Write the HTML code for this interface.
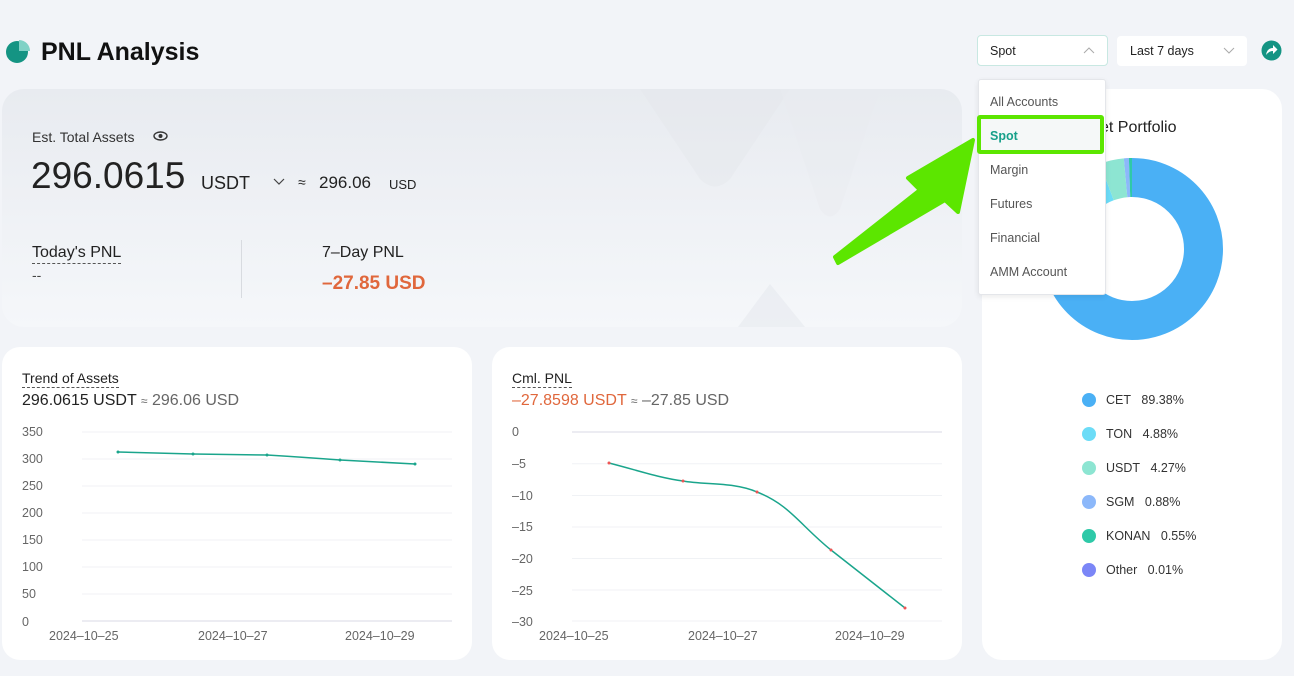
<!DOCTYPE html>
<html><head><meta charset="utf-8"><style>
*{margin:0;padding:0;box-sizing:border-box}
body{width:1294px;height:676px;background:#f2f4f8;font-family:"Liberation Sans",sans-serif;position:relative;overflow:hidden;color:#222}
.a{position:absolute;white-space:nowrap}
.card{position:absolute;background:#fff;border-radius:18px}
.dash{border-bottom:1px dashed #555;padding-bottom:1px}
.ax{font-size:12.5px;fill:#666;font-family:"Liberation Sans",sans-serif}
</style></head><body>
<svg class="a" style="left:5px;top:39px" width="26" height="26"><circle cx="12" cy="13" r="11" fill="#149483"/><path d="M14 1 A11 11 0 0 1 25 12 L14 12Z" fill="#7fd2c6"/></svg>
<div class="a" style="left:41px;top:38px;font-size:25px;font-weight:bold;color:#111">PNL Analysis</div>

<div class="card" style="left:2px;top:89px;width:960px;height:238px;background:linear-gradient(180deg,#e8ebf0,#f5f7fa);border-radius:22px"></div>
<svg class="a" style="left:620px;top:89px" width="340" height="238"><path d="M20 0 L80 90 Q95 105 110 90 L170 0Z" fill="#e4e7ec" opacity=".45"/><path d="M160 0 L200 120 Q210 135 220 120 L260 0Z" fill="#e9ecf0" opacity=".45"/><path d="M118 238 L150 195 L185 238Z" fill="#e6e9ee" opacity=".6"/></svg>
<div class="a" style="left:32px;top:129px;font-size:14px;color:#333">Est. Total Assets</div>
<svg class="a" style="left:153px;top:130px" width="15" height="12"><ellipse cx="7.5" cy="6" rx="6.5" ry="4" fill="none" stroke="#333" stroke-width="1.4"/><circle cx="7.5" cy="6" r="2" fill="#333"/></svg>
<div class="a" style="left:31px;top:155px;font-size:37px;color:#222">296.0615</div>
<div class="a" style="left:201px;top:173px;font-size:18px;color:#222">USDT</div>
<svg class="a" style="left:273px;top:178px" width="12" height="8"><path d="M1 1 L6 6 L11 1" fill="none" stroke="#444" stroke-width="1.2"/></svg>
<div class="a" style="left:298px;top:174px;font-size:14px">≈</div>
<div class="a" style="left:319px;top:173px;font-size:17px">296.06</div>
<div class="a" style="left:389px;top:177px;font-size:13px">USD</div>
<div class="a dash" style="left:32px;top:244px;font-size:16px;color:#222">Today's PNL</div>
<div class="a" style="left:32px;top:267px;font-size:14px;color:#444">--</div>
<div class="a" style="left:241px;top:240px;width:1px;height:58px;background:#d8dbe0"></div>
<div class="a" style="left:322px;top:244px;font-size:16px;color:#222">7–Day PNL</div>
<div class="a" style="left:322px;top:273px;font-size:19px;font-weight:bold;color:#e0673c">–27.85 USD</div>

<div class="card" style="left:2px;top:347px;width:470px;height:313px"></div>
<div class="a dash" style="left:22px;top:370px;font-size:14px">Trend of Assets</div>
<div class="a" style="left:22px;top:392px;font-size:16px;color:#222">296.0615 USDT <span style="font-size:12px;color:#666">≈</span> <span style="color:#666">296.06 USD</span></div>
<svg class="a" style="left:0;top:0" width="480" height="676">
<g stroke="#f0f2f5"><line x1="82" x2="452" y1="432" y2="432"/><line x1="82" x2="452" y1="459" y2="459"/><line x1="82" x2="452" y1="486" y2="486"/><line x1="82" x2="452" y1="513" y2="513"/><line x1="82" x2="452" y1="540" y2="540"/><line x1="82" x2="452" y1="567" y2="567"/><line x1="82" x2="452" y1="594" y2="594"/></g>
<line x1="82" x2="452" y1="621" y2="621" stroke="#d8d8e6"/>
<g class="ax"><text x="22" y="436">350</text><text x="22" y="463">300</text><text x="22" y="490">250</text><text x="22" y="517">200</text><text x="22" y="544">150</text><text x="22" y="571">100</text><text x="22" y="598">50</text><text x="22" y="626">0</text>
<text x="49" y="640">2024–10–25</text><text x="198" y="640">2024–10–27</text><text x="345" y="640">2024–10–29</text></g>
<path d="M118 452 L193 454 L267 455 Q300 457 340 460 L415 464" fill="none" stroke="#1aa58c" stroke-width="1.5"/>
<g fill="#1aa58c"><circle cx="118" cy="452" r="1.5"/><circle cx="193" cy="454" r="1.5"/><circle cx="267" cy="455" r="1.5"/><circle cx="340" cy="460" r="1.5"/><circle cx="415" cy="464" r="1.5"/></g>
</svg>

<div class="card" style="left:492px;top:347px;width:470px;height:313px"></div>
<div class="a dash" style="left:512px;top:370px;font-size:14px">Cml. PNL</div>
<div class="a" style="left:512px;top:392px;font-size:16px;color:#e0673c">–27.8598 USDT <span style="font-size:12px;color:#666">≈</span> <span style="color:#666">–27.85 USD</span></div>
<svg class="a" style="left:0;top:0" width="970" height="676">
<g stroke="#f0f2f5"><line x1="572" x2="942" y1="463.7" y2="463.7"/><line x1="572" x2="942" y1="495.5" y2="495.5"/><line x1="572" x2="942" y1="527" y2="527"/><line x1="572" x2="942" y1="558.5" y2="558.5"/><line x1="572" x2="942" y1="590" y2="590"/><line x1="572" x2="942" y1="621" y2="621"/></g>
<line x1="572" x2="942" y1="432" y2="432" stroke="#d8d8e6"/>
<g class="ax"><text x="512" y="436">0</text><text x="512" y="468">–5</text><text x="512" y="500">–10</text><text x="512" y="531">–15</text><text x="512" y="563">–20</text><text x="512" y="595">–25</text><text x="512" y="626">–30</text>
<text x="539" y="640">2024–10–25</text><text x="688" y="640">2024–10–27</text><text x="835" y="640">2024–10–29</text></g>
<path d="M609 463 C640 471 660 478 683 481 C705 485 735 482 757 492 C790 505 800 525 831 550 L905 608" fill="none" stroke="#1aa58c" stroke-width="1.5"/>
<g fill="#e55"><circle cx="609" cy="463" r="1.5"/><circle cx="683" cy="481" r="1.5"/><circle cx="757" cy="492" r="1.5"/><circle cx="831" cy="550" r="1.5"/><circle cx="905" cy="608" r="1.5"/></g>
</svg>

<div class="card" style="left:982px;top:89px;width:300px;height:571px;border-radius:20px"></div>
<div class="a" style="left:1100px;top:119px;font-size:16px;color:#222">et Portfolio</div>
<svg class="a" style="left:1032px;top:148px" width="200" height="200">
<g transform="rotate(-90 100 101)" fill="none" stroke-width="39">
<circle cx="100" cy="101" r="71.5" stroke="#4ab0f5" stroke-dasharray="401.54 449.25"/>
<circle cx="100" cy="101" r="71.5" stroke="#6cdcf7" stroke-dasharray="21.92 449.25" stroke-dashoffset="-401.54"/>
<circle cx="100" cy="101" r="71.5" stroke="#8de5d2" stroke-dasharray="19.18 449.25" stroke-dashoffset="-423.46"/>
<circle cx="100" cy="101" r="71.5" stroke="#8cb8fa" stroke-dasharray="3.95 449.25" stroke-dashoffset="-442.64"/>
<circle cx="100" cy="101" r="71.5" stroke="#2ec9a8" stroke-dasharray="2.47 449.25" stroke-dashoffset="-446.59"/>
</g></svg>
<div style="position:absolute;left:1082px;top:383px;font-size:12.5px;color:#333;line-height:34px">
<div><span style="display:inline-block;width:14px;height:14px;border-radius:50%;background:#4ab0f5;vertical-align:-3px;margin-right:10px"></span>CET&nbsp;&nbsp; 89.38%</div>
<div><span style="display:inline-block;width:14px;height:14px;border-radius:50%;background:#6cdcf7;vertical-align:-3px;margin-right:10px"></span>TON&nbsp;&nbsp; 4.88%</div>
<div><span style="display:inline-block;width:14px;height:14px;border-radius:50%;background:#8de5d2;vertical-align:-3px;margin-right:10px"></span>USDT&nbsp;&nbsp; 4.27%</div>
<div><span style="display:inline-block;width:14px;height:14px;border-radius:50%;background:#8cb8fa;vertical-align:-3px;margin-right:10px"></span>SGM&nbsp;&nbsp; 0.88%</div>
<div><span style="display:inline-block;width:14px;height:14px;border-radius:50%;background:#2ec9a8;vertical-align:-3px;margin-right:10px"></span>KONAN&nbsp;&nbsp; 0.55%</div>
<div><span style="display:inline-block;width:14px;height:14px;border-radius:50%;background:#7b86f7;vertical-align:-3px;margin-right:10px"></span>Other&nbsp;&nbsp; 0.01%</div>
</div>

<div class="a" style="left:977px;top:35px;width:131px;height:31px;background:#fff;border:1px solid #c8e8e2;border-radius:4px"></div>
<div class="a" style="left:990px;top:44px;font-size:12.5px;color:#222">Spot</div>
<svg class="a" style="left:1083px;top:47px" width="12" height="8"><path d="M1 6 L6 1 L11 6" fill="none" stroke="#aaa" stroke-width="1"/></svg>
<div class="a" style="left:1117px;top:36px;width:130px;height:30px;background:#fff;border-radius:4px"></div>
<div class="a" style="left:1130px;top:44px;font-size:12.5px;color:#222">Last 7 days</div>
<svg class="a" style="left:1223px;top:47px" width="12" height="8"><path d="M1 1 L6 6 L11 1" fill="none" stroke="#aaa" stroke-width="1"/></svg>
<svg class="a" style="left:1261px;top:40px" width="21" height="21"><circle cx="10.5" cy="10.5" r="10" fill="#149483"/><path d="M5 15 Q6 8 12 8 L12 5 L16.5 9.5 L12 14 L12 11 Q8 11 5 15Z" fill="#fff"/></svg>

<div class="a" style="left:978px;top:79px;width:128px;height:216px;background:#fff;border:1px solid #e4e6ea;border-radius:3px;box-shadow:0 2px 6px rgba(0,0,0,.08)"></div>
<div class="a" style="left:990px;top:95px;font-size:12.5px;color:#555">All Accounts</div>
<div class="a" style="left:977px;top:115px;width:127px;height:39px;border:4px solid #5ce600;border-radius:3px;background:#f5f8f8"></div>
<div class="a" style="left:990px;top:129px;font-size:12.5px;font-weight:bold;color:#17a08a">Spot</div>
<div class="a" style="left:990px;top:163px;font-size:12.5px;color:#555">Margin</div>
<div class="a" style="left:990px;top:197px;font-size:12.5px;color:#555">Futures</div>
<div class="a" style="left:990px;top:231px;font-size:12.5px;color:#555">Financial</div>
<div class="a" style="left:990px;top:265px;font-size:12.5px;color:#555">AMM Account</div>
<svg class="a" style="left:820px;top:130px" width="160" height="140"><path d="M15 127 L100 60 L88 48 L153 10 L138 82 L125 70 L18 133 Z" fill="#5ce600" stroke="#5ce600" stroke-width="4" stroke-linejoin="round"/></svg>
</body></html>
